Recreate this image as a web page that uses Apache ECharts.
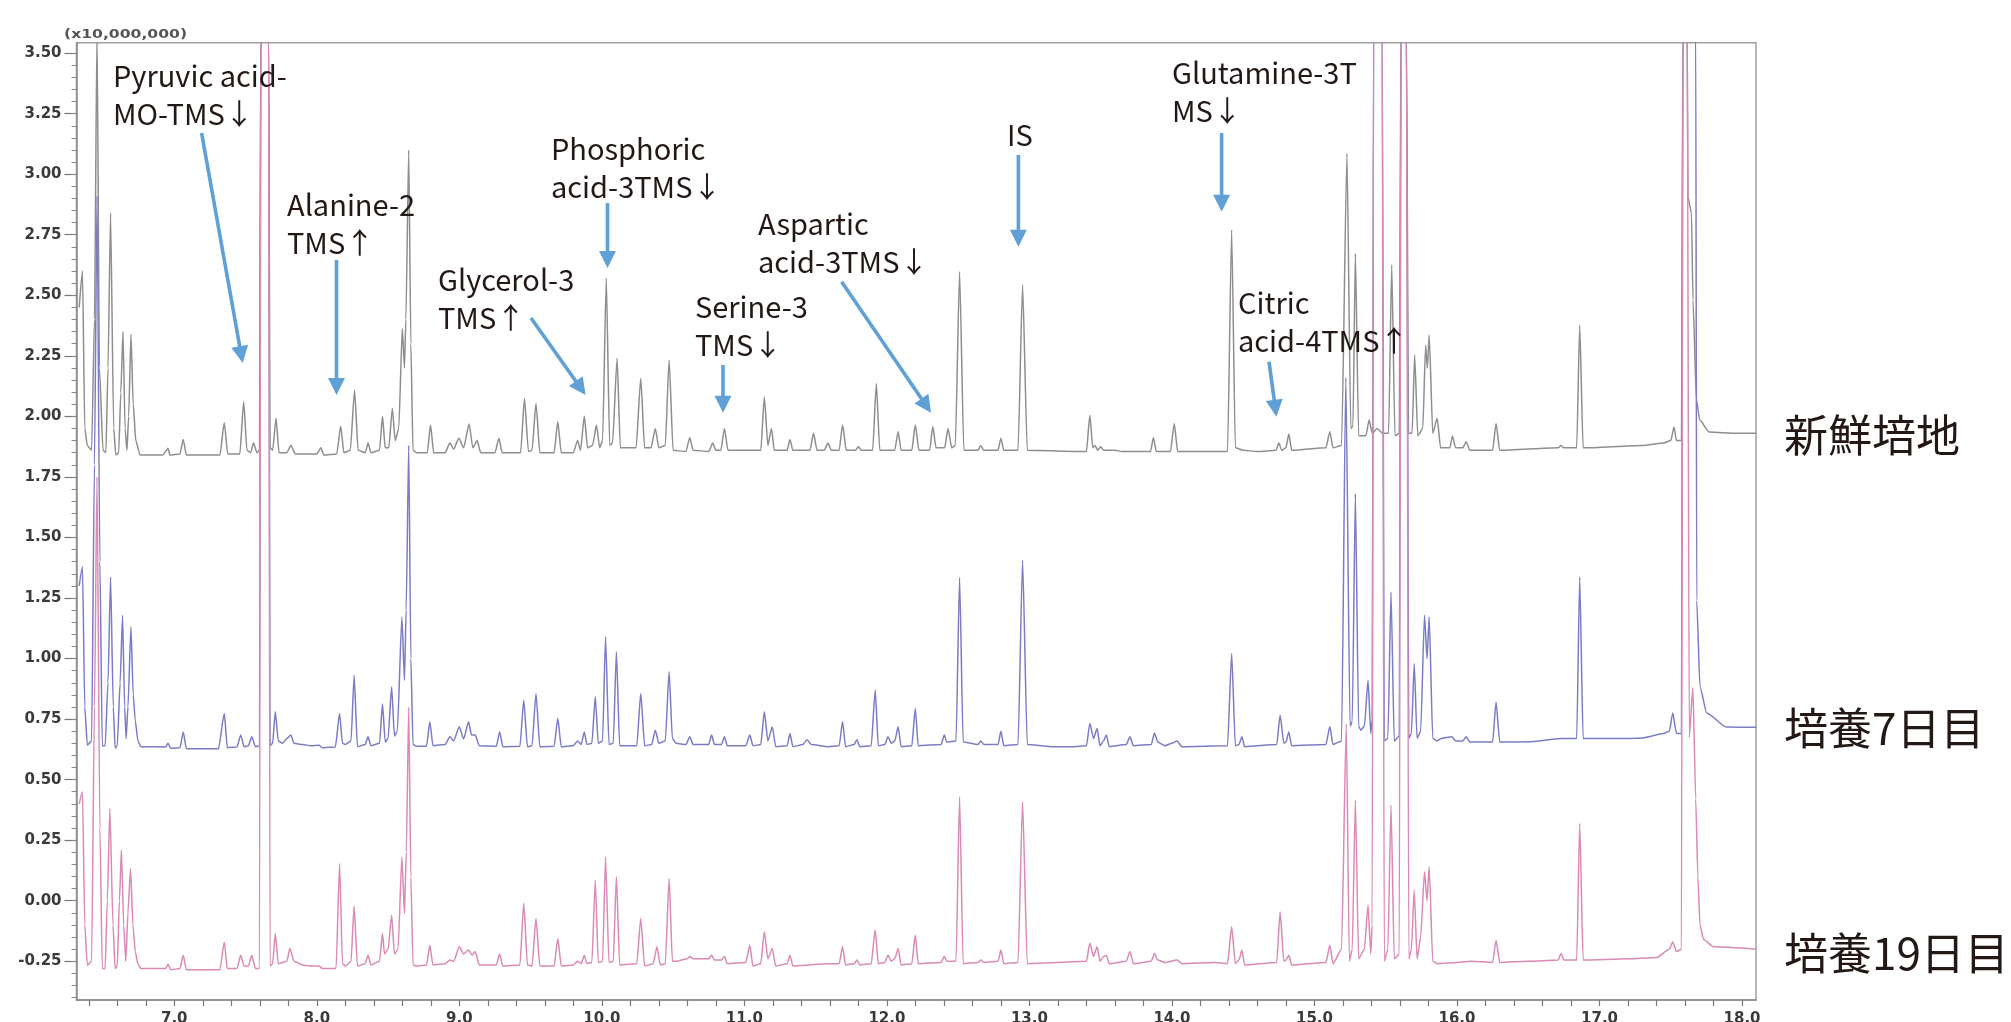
<!DOCTYPE html>
<html>
<head>
<meta charset="utf-8">
<script src="https://cdn.jsdelivr.net/npm/echarts@6/dist/echarts.min.js"></script>
<style>
html,body{margin:0;padding:0;background:#fff;}
#chart{width:2011px;height:1022px;}
</style>
</head>
<body>
<div id="chart"></div>
<script>
// ---------------- DATA ----------------
// Retention time (min) vs intensity (x10,000,000); traces are offset as printed.
const seriesNames = ['新鮮培地', '培養7日目', '培養19日目'];

const freshMedium = [
[6.333,2.45],[6.356,2.60],[6.372,1.95],[6.39,1.88],[6.42,1.86],[6.44,2.4],[6.458,3.6],[6.475,2.2],[6.50,1.86],[6.52,1.85],
[6.535,2.2],[6.553,2.84],[6.575,1.95],[6.59,1.84],[6.61,1.85],[6.625,2.1],[6.64,2.35],[6.655,1.95],[6.668,1.86],[6.68,2.0],
[6.696,2.34],[6.712,2.05],[6.73,1.90],[6.76,1.84],[6.92,1.84],[6.945,1.86],[6.956,1.868],[6.97,1.84],[7.04,1.845],[7.063,1.905],
[7.085,1.84],[7.32,1.84],[7.351,1.974],[7.375,1.845],[7.46,1.845],[7.487,2.06],[7.51,1.86],[7.535,1.85],[7.556,1.89],[7.58,1.85],
[7.598,1.86],[7.607,3.6],[7.662,3.6],[7.672,1.87],[7.69,1.86],[7.714,1.992],[7.735,1.85],[7.79,1.85],[7.818,1.88],[7.85,1.845],
[8.0,1.845],[8.028,1.87],[8.05,1.84],[8.14,1.845],[8.168,1.96],[8.19,1.85],[8.235,1.86],[8.265,2.108],[8.29,1.86],[8.34,1.85],
[8.36,1.89],[8.38,1.85],[8.44,1.86],[8.461,2.0],[8.48,1.87],[8.505,1.87],[8.53,2.033],[8.55,1.9],[8.575,1.95],[8.60,2.363],
[8.615,2.2],[8.625,2.4],[8.645,3.10],[8.66,2.3],[8.675,1.86],[8.70,1.85],[8.775,1.85],[8.798,1.964],[8.82,1.85],[8.90,1.85],
[8.934,1.89],[8.96,1.865],[8.997,1.91],[9.03,1.87],[9.069,1.968],[9.095,1.87],[9.125,1.90],[9.15,1.85],[9.25,1.85],[9.278,1.91],
[9.30,1.85],[9.43,1.85],[9.457,2.074],[9.485,1.855],[9.51,1.86],[9.538,2.054],[9.565,1.85],[9.665,1.85],[9.691,1.978],[9.715,1.85],
[9.80,1.85],[9.83,1.90],[9.85,1.86],[9.877,2.0],[9.90,1.87],[9.935,1.88],[9.962,1.964],[9.985,1.87],[10.005,1.90],[10.031,2.57],
[10.055,1.88],[10.075,1.89],[10.107,2.24],[10.13,1.87],[10.24,1.87],[10.273,2.157],[10.30,1.87],[10.345,1.87],[10.375,1.95],[10.40,1.87],
[10.445,1.88],[10.472,2.233],[10.50,1.86],[10.59,1.855],[10.617,1.913],[10.64,1.86],[10.75,1.855],[10.778,1.89],[10.80,1.86],[10.835,1.86],
[10.86,1.95],[10.885,1.86],[11.115,1.86],[11.14,2.08],[11.165,1.88],[11.19,1.95],[11.21,1.86],[11.30,1.86],[11.32,1.905],[11.34,1.86],
[11.46,1.86],[11.485,1.93],[11.51,1.86],[11.56,1.86],[11.587,1.89],[11.61,1.86],[11.665,1.86],[11.689,1.964],[11.715,1.86],[11.78,1.86],
[11.80,1.875],[11.82,1.86],[11.90,1.86],[11.926,2.136],[11.95,1.86],[12.055,1.86],[12.079,1.937],[12.10,1.86],[12.175,1.86],[12.199,1.964],
[12.225,1.86],[12.30,1.86],[12.322,1.957],[12.345,1.87],[12.405,1.87],[12.429,1.95],[12.455,1.87],[12.48,1.88],[12.51,2.597],[12.54,1.86],
[12.64,1.86],[12.658,1.88],[12.68,1.86],[12.78,1.86],[12.80,1.91],[12.82,1.86],[12.92,1.86],[12.952,2.542],[12.985,1.86],[13.40,1.855],
[13.424,2.005],[13.445,1.87],[13.46,1.88],[13.48,1.86],[13.50,1.875],[13.52,1.86],[13.60,1.86],[13.65,1.855],[13.85,1.855],[13.87,1.913],
[13.89,1.855],[13.99,1.855],[14.016,1.971],[14.04,1.855],[14.39,1.855],[14.419,2.77],[14.445,1.87],[14.50,1.86],[14.60,1.855],[14.73,1.86],
[14.75,1.89],[14.77,1.86],[14.80,1.87],[14.82,1.927],[14.84,1.86],[15.08,1.87],[15.108,1.937],[15.13,1.87],[15.19,1.88],[15.228,3.086],
[15.255,1.95],[15.27,1.96],[15.287,2.673],[15.31,1.92],[15.36,1.92],[15.384,1.985],[15.405,1.93],[15.44,1.95],[15.48,1.93],[15.52,1.93],
[15.542,2.625],[15.565,1.92],[15.595,1.93],[15.607,3.6],[15.645,3.6],[15.66,1.93],[15.685,1.93],[15.703,2.253],[15.725,1.92],[15.76,1.95],
[15.78,2.294],[15.792,2.2],[15.805,2.336],[15.83,1.93],[15.861,1.992],[15.885,1.87],[15.95,1.87],[15.968,1.919],[15.99,1.87],[16.04,1.87],
[16.065,1.895],[16.09,1.86],[16.25,1.86],[16.274,1.971],[16.30,1.86],[16.71,1.87],[16.73,1.88],[16.75,1.87],[16.84,1.87],[16.861,2.377],
[16.885,1.87],[17.30,1.88],[17.45,1.89],[17.50,1.90],[17.523,1.956],[17.54,1.90],[17.575,1.90],[17.585,3.6],[17.615,3.6],[17.621,2.905],
[17.645,2.84],[17.656,2.48],[17.68,2.07],[17.703,1.985],[17.77,1.935],[17.96,1.93],[18.1,1.93]
];

const day7 = [
[6.333,1.30],[6.356,1.379],[6.372,0.80],[6.39,0.642],[6.42,0.66],[6.44,1.8],[6.458,2.91],[6.478,1.4],[6.495,0.64],[6.515,0.64],
[6.535,0.90],[6.553,1.337],[6.572,0.80],[6.585,0.63],[6.60,0.64],[6.62,0.90],[6.637,1.179],[6.652,0.80],[6.662,0.67],[6.675,0.80],
[6.696,1.131],[6.712,0.85],[6.726,0.746],[6.745,0.66],[6.765,0.636],[6.94,0.635],[6.956,0.65],[6.975,0.63],[7.04,0.632],[7.063,0.697],
[7.085,0.628],[7.31,0.628],[7.351,0.773],[7.372,0.632],[7.44,0.635],[7.466,0.684],[7.49,0.636],[7.52,0.64],[7.543,0.677],[7.57,0.636],
[7.598,0.64],[7.607,3.6],[7.662,3.6],[7.672,0.64],[7.69,0.65],[7.709,0.78],[7.73,0.66],[7.76,0.65],[7.79,0.67],[7.818,0.684],
[7.84,0.65],[7.90,0.645],[7.96,0.64],[8.015,0.642],[8.04,0.632],[8.13,0.635],[8.16,0.773],[8.18,0.65],[8.20,0.645],[8.24,0.66],
[8.262,0.931],[8.285,0.636],[8.34,0.645],[8.359,0.677],[8.38,0.64],[8.44,0.65],[8.461,0.812],[8.48,0.655],[8.50,0.67],[8.525,0.883],
[8.545,0.68],[8.565,0.70],[8.597,1.172],[8.615,0.91],[8.627,1.2],[8.645,1.88],[8.66,1.0],[8.675,0.645],[8.70,0.638],[8.77,0.638],
[8.793,0.739],[8.815,0.64],[8.90,0.645],[8.934,0.677],[8.96,0.66],[9.0,0.718],[9.03,0.668],[9.065,0.739],[9.085,0.685],[9.112,0.684],
[9.14,0.64],[9.26,0.638],[9.283,0.697],[9.305,0.636],[9.425,0.638],[9.452,0.828],[9.478,0.636],[9.51,0.64],[9.538,0.856],[9.565,0.636],
[9.665,0.638],[9.691,0.753],[9.715,0.636],[9.80,0.64],[9.83,0.66],[9.855,0.645],[9.877,0.697],[9.895,0.645],[9.93,0.65],[9.954,0.842],
[9.975,0.65],[10.005,0.66],[10.026,1.09],[10.05,0.645],[10.08,0.65],[10.102,1.028],[10.125,0.64],[10.245,0.64],[10.273,0.856],[10.30,0.64],
[10.35,0.645],[10.375,0.704],[10.40,0.65],[10.445,0.66],[10.472,0.945],[10.495,0.67],[10.52,0.65],[10.59,0.645],[10.617,0.677],[10.64,0.645],
[10.75,0.645],[10.77,0.684],[10.79,0.645],[10.84,0.645],[10.86,0.677],[10.88,0.64],[11.01,0.64],[11.038,0.684],[11.06,0.64],[11.115,0.645],
[11.14,0.78],[11.165,0.66],[11.196,0.718],[11.22,0.636],[11.30,0.64],[11.32,0.69],[11.34,0.636],[11.41,0.645],[11.44,0.665],[11.47,0.645],
[11.58,0.636],[11.665,0.64],[11.689,0.739],[11.71,0.636],[11.77,0.645],[11.79,0.665],[11.81,0.636],[11.89,0.64],[11.918,0.87],[11.94,0.64],
[11.985,0.645],[12.008,0.677],[12.03,0.65],[12.055,0.66],[12.079,0.718],[12.10,0.636],[12.175,0.64],[12.199,0.794],[12.22,0.64],[12.38,0.645],
[12.403,0.684],[12.42,0.655],[12.485,0.66],[12.51,1.335],[12.535,0.655],[12.64,0.645],[12.658,0.66],[12.68,0.645],[12.78,0.645],[12.80,0.70],
[12.82,0.64],[12.92,0.645],[12.952,1.406],[12.985,0.645],[13.15,0.636],[13.30,0.636],[13.40,0.64],[13.424,0.732],[13.45,0.67],[13.475,0.711],
[13.495,0.64],[13.52,0.66],[13.54,0.684],[13.56,0.636],[13.68,0.645],[13.705,0.677],[13.73,0.64],[13.855,0.645],[13.878,0.693],[13.90,0.655],
[13.95,0.64],[14.00,0.65],[14.036,0.66],[14.07,0.636],[14.39,0.64],[14.419,1.021],[14.445,0.64],[14.47,0.645],[14.491,0.677],[14.51,0.636],
[14.735,0.645],[14.759,0.766],[14.785,0.65],[14.80,0.655],[14.82,0.697],[14.84,0.64],[15.08,0.645],[15.108,0.718],[15.13,0.645],[15.19,0.66],
[15.22,2.16],[15.25,0.72],[15.265,0.74],[15.287,1.68],[15.31,0.72],[15.325,0.704],[15.35,0.72],[15.376,0.91],[15.395,0.69],[15.405,0.75],
[15.415,3.6],[15.475,3.6],[15.49,0.66],[15.515,0.67],[15.537,1.275],[15.56,0.66],[15.595,0.68],[15.607,3.6],[15.645,3.6],[15.662,0.67],
[15.68,0.69],[15.70,0.98],[15.72,0.67],[15.745,0.70],[15.772,1.179],[15.79,1.0],[15.805,1.172],[15.83,0.67],[15.86,0.66],[15.89,0.67],
[15.963,0.677],[15.99,0.66],[16.04,0.66],[16.065,0.677],[16.09,0.655],[16.25,0.655],[16.274,0.821],[16.30,0.655],[16.50,0.656],[16.73,0.67],
[16.84,0.67],[16.861,1.337],[16.885,0.67],[17.20,0.67],[17.30,0.672],[17.45,0.69],[17.49,0.70],[17.514,0.775],[17.54,0.69],[17.575,0.69],
[17.585,3.6],[17.675,3.6],[17.682,1.24],[17.705,0.883],[17.752,0.775],[17.89,0.717],[18.1,0.716]
];

const day19 = [
[6.333,0.40],[6.356,0.45],[6.372,-0.10],[6.39,-0.266],[6.42,-0.25],[6.44,0.8],[6.458,1.75],[6.478,0.3],[6.495,-0.28],[6.515,-0.28],
[6.53,0.0],[6.548,0.381],[6.57,-0.10],[6.585,-0.28],[6.60,-0.27],[6.615,0.0],[6.629,0.209],[6.645,-0.10],[6.66,-0.25],[6.675,-0.05],
[6.693,0.133],[6.71,-0.10],[6.726,-0.21],[6.745,-0.26],[6.765,-0.28],[6.94,-0.28],[6.956,-0.262],[6.975,-0.285],[7.04,-0.28],[7.063,-0.225],
[7.085,-0.285],[7.32,-0.285],[7.351,-0.17],[7.372,-0.28],[7.44,-0.28],[7.466,-0.225],[7.49,-0.27],[7.52,-0.27],[7.543,-0.225],[7.57,-0.28],
[7.598,-0.28],[7.607,3.6],[7.662,3.6],[7.672,-0.27],[7.69,-0.26],[7.709,-0.135],[7.73,-0.26],[7.79,-0.25],[7.811,-0.197],[7.84,-0.25],
[7.90,-0.265],[7.96,-0.27],[8.015,-0.27],[8.04,-0.28],[8.135,-0.28],[8.16,0.154],[8.18,-0.26],[8.20,-0.27],[8.24,-0.25],[8.262,-0.022],
[8.285,-0.27],[8.34,-0.26],[8.359,-0.225],[8.38,-0.265],[8.44,-0.25],[8.461,-0.135],[8.475,-0.22],[8.50,-0.20],[8.525,-0.06],[8.545,-0.22],
[8.57,-0.20],[8.597,0.181],[8.615,-0.053],[8.628,0.2],[8.645,0.80],[8.66,0.1],[8.675,-0.265],[8.70,-0.27],[8.77,-0.265],[8.793,-0.184],
[8.815,-0.265],[8.90,-0.26],[8.934,-0.245],[8.96,-0.25],[9.0,-0.19],[9.03,-0.22],[9.065,-0.204],[9.09,-0.225],[9.112,-0.21],[9.14,-0.265],
[9.26,-0.265],[9.283,-0.22],[9.305,-0.27],[9.425,-0.265],[9.452,-0.011],[9.478,-0.265],[9.51,-0.27],[9.538,-0.073],[9.565,-0.27],[9.665,-0.27],
[9.691,-0.156],[9.715,-0.27],[9.80,-0.265],[9.83,-0.25],[9.855,-0.26],[9.877,-0.225],[9.895,-0.26],[9.93,-0.255],[9.954,0.085],[9.975,-0.255],
[10.005,-0.25],[10.026,0.181],[10.05,-0.255],[10.08,-0.25],[10.102,0.099],[10.125,-0.265],[10.245,-0.26],[10.273,-0.073],[10.30,-0.27],[10.36,-0.26],
[10.387,-0.19],[10.41,-0.265],[10.445,-0.26],[10.472,0.092],[10.495,-0.25],[10.52,-0.25],[10.60,-0.24],[10.617,-0.23],[10.64,-0.24],[10.75,-0.24],
[10.77,-0.225],[10.79,-0.245],[10.84,-0.245],[10.86,-0.23],[10.88,-0.26],[11.01,-0.255],[11.038,-0.184],[11.06,-0.27],[11.115,-0.26],[11.14,-0.128],
[11.165,-0.24],[11.196,-0.197],[11.22,-0.27],[11.30,-0.26],[11.32,-0.225],[11.34,-0.27],[11.45,-0.265],[11.58,-0.26],[11.665,-0.26],[11.689,-0.19],
[11.71,-0.265],[11.77,-0.26],[11.79,-0.245],[11.81,-0.265],[11.89,-0.26],[11.918,-0.121],[11.94,-0.26],[11.985,-0.255],[12.008,-0.225],[12.03,-0.25],
[12.055,-0.24],[12.079,-0.197],[12.10,-0.265],[12.175,-0.26],[12.199,-0.142],[12.22,-0.26],[12.38,-0.255],[12.403,-0.23],[12.42,-0.25],[12.485,-0.25],
[12.51,0.429],[12.535,-0.26],[12.64,-0.255],[12.658,-0.245],[12.68,-0.255],[12.78,-0.25],[12.80,-0.204],[12.82,-0.26],[12.92,-0.255],[12.952,0.408],
[12.985,-0.26],[13.20,-0.255],[13.40,-0.25],[13.424,-0.176],[13.45,-0.23],[13.475,-0.19],[13.495,-0.25],[13.52,-0.23],[13.54,-0.225],[13.56,-0.26],
[13.68,-0.25],[13.705,-0.21],[13.73,-0.26],[13.855,-0.25],[13.878,-0.218],[13.90,-0.245],[13.95,-0.255],[14.036,-0.245],[14.07,-0.26],[14.30,-0.255],
[14.39,-0.26],[14.419,-0.108],[14.445,-0.26],[14.47,-0.245],[14.491,-0.204],[14.51,-0.265],[14.735,-0.255],[14.759,-0.046],[14.785,-0.25],[14.80,-0.245],
[14.82,-0.225],[14.84,-0.265],[15.08,-0.255],[15.108,-0.184],[15.13,-0.26],[15.19,-0.20],[15.223,0.73],[15.245,-0.25],[15.265,-0.20],[15.287,0.415],
[15.31,-0.24],[15.35,-0.20],[15.376,-0.018],[15.395,-0.22],[15.405,-0.10],[15.415,3.6],[15.475,3.6],[15.49,-0.25],[15.515,-0.20],[15.537,0.395],
[15.56,-0.24],[15.595,-0.22],[15.607,3.6],[15.645,3.6],[15.662,-0.24],[15.68,-0.20],[15.70,0.044],[15.72,-0.24],[15.745,-0.15],[15.772,0.12],
[15.79,0.0],[15.805,0.14],[15.83,-0.25],[15.86,-0.26],[16.0,-0.255],[16.1,-0.25],[16.25,-0.255],[16.274,-0.163],[16.30,-0.255],[16.50,-0.25],
[16.71,-0.245],[16.73,-0.218],[16.75,-0.245],[16.84,-0.245],[16.861,0.319],[16.885,-0.245],[17.20,-0.24],[17.40,-0.235],[17.49,-0.20],[17.514,-0.17],
[17.54,-0.21],[17.575,-0.20],[17.585,3.6],[17.615,3.6],[17.63,0.675],[17.655,0.88],[17.675,0.42],[17.69,0.10],[17.705,-0.10],[17.73,-0.16],
[17.80,-0.19],[18.1,-0.20]
];

// Axis tick labels
const xTickValues = [7,8,9,10,11,12,13,14,15,16,17,18];
const xTickLabels = ['7.0','8.0','9.0','10.0','11.0','12.0','13.0','14.0','15.0','16.0','17.0','18.0'];
const yTickValues = [-0.25,0,0.25,0.5,0.75,1,1.25,1.5,1.75,2,2.25,2.5,2.75,3,3.25,3.5];
const yTickLabels = ['-0.25','0.00','0.25','0.50','0.75','1.00','1.25','1.50','1.75','2.00','2.25','2.50','2.75','3.00','3.25','3.50'];
const unitLabel = '(x10,000,000)';

// Peak annotations (compound names as printed)
const annotationTexts = [
  'Pyruvic acid-\nMO-TMS↓', 'Alanine-2\nTMS↑', 'Glycerol-3\nTMS↑', 'Phosphoric\nacid-3TMS↓',
  'Serine-3\nTMS↓', 'Aspartic\nacid-3TMS↓', 'IS', 'Glutamine-3T\nMS↓', 'Citric\nacid-4TMS↑'
];

// ---------------- LAYOUT ----------------
const X_MIN = 6.314, X_MAX = 18.098, Y_MIN = -0.41, Y_MAX = 3.543;
const GRID = {left: 76.5, top: 42.7, right: 255, bottom: 22};

// minor tick positions
const xMinorTicks = [];
for (let i = 32; i <= 90; i++) xMinorTicks.push(+(i * 0.2).toFixed(2));
const yMinorTicks = [];
for (let i = -8; i <= 70; i++) yMinorTicks.push(+(i * 0.05).toFixed(2));

function lab(values, labels) {
  return function (v) {
    const i = values.findIndex(t => Math.abs(t - v) < 1e-6);
    return i >= 0 ? labels[i] : '';
  };
}

const annoFont = '29px "Noto Sans CJK JP"';
const annoColor = '#231815';
const arrowColor = '#5fa0d6';
// text anchor (left, top of first line) and arrow (start -> tip) in pixels
const annoPos = [
  [113, 57], [287, 186], [438, 261], [551, 130], [695, 288], [758, 205], [1007, 116], [1172, 54], [1238, 284]
];
const arrowPos = [
  [201.6,133, 242.7,363], [336.5,260, 336.5,395], [531,318, 585.6,395], [607.5,203, 607.5,268],
  [723,365, 723,412.7], [841.6,281.7, 931,412.7], [1018.4,155, 1018.4,246.7], [1221.6,133, 1221.6,211.7],
  [1269,361.7, 1276.5,416.7]
];

const graphics = [];
annotationTexts.forEach((t, i) => {
  graphics.push({
    type: 'text', x: annoPos[i][0], y: annoPos[i][1], z: 100,
    style: {text: t, font: annoFont, fill: annoColor, lineHeight: 38, textAlign: 'left', textVerticalAlign: 'top'}
  });
  const [x1, y1, x2, y2] = arrowPos[i];
  const dx = x2 - x1, dy = y2 - y1, L = Math.sqrt(dx * dx + dy * dy);
  const ux = dx / L, uy = dy / L, hl = 17, hw = 8.5;
  const bx = x2 - ux * hl, by = y2 - uy * hl;
  graphics.push({
    type: 'line', z: 100,
    shape: {x1: x1, y1: y1, x2: bx + ux * 2, y2: by + uy * 2},
    style: {stroke: arrowColor, lineWidth: 3.6}
  });
  graphics.push({
    type: 'polygon', z: 100,
    shape: {points: [[x2, y2], [bx - uy * hw, by + ux * hw], [bx + uy * hw, by - ux * hw]]},
    style: {fill: arrowColor}
  });
});
// trace names at right
const nameY = [435, 728, 953];
seriesNames.forEach((n, i) => {
  graphics.push({
    type: 'text', x: 1784, y: nameY[i], z: 100,
    style: {text: n, font: '44px "Noto Sans CJK JP"', fill: annoColor, textAlign: 'left', textVerticalAlign: 'middle'}
  });
});
graphics.push({
  type: 'text', x: 64, y: 35, scaleX: 1.3, z: 100,
  style: {text: unitLabel, font: 'bold 12px "DejaVu Sans"', fill: '#555', textAlign: 'left', textVerticalAlign: 'middle'}
});

const chart = echarts.init(document.getElementById('chart'), null, {renderer: 'canvas'});
const axisLabelStyle = {fontFamily: 'DejaVu Sans', fontSize: 15, fontWeight: 'bold', color: '#3a3a3a'};

chart.setOption({
  animation: false,
  backgroundColor: '#ffffff',
  grid: {left: GRID.left, top: GRID.top, right: GRID.right, bottom: GRID.bottom, show: true,
         outerBoundsMode: 'none',
         borderColor: '#a0a0a0', borderWidth: 1.5, backgroundColor: 'transparent', containLabel: false},
  xAxis: [
    {type: 'value', min: X_MIN, max: X_MAX, position: 'bottom',
     axisLine: {show: true, onZero: false, lineStyle: {color: '#8a8a8a', width: 1.5}},
     axisTick: {show: true, length: 6, customValues: xMinorTicks, lineStyle: {color: '#777', width: 1.2}},
     axisLabel: Object.assign({customValues: xTickValues, formatter: lab(xTickValues, xTickLabels), margin: 12}, axisLabelStyle),
     splitLine: {show: false}}
  ],
  yAxis: [
    {type: 'value', min: Y_MIN, max: Y_MAX, position: 'left',
     axisLine: {show: true, onZero: false, lineStyle: {color: '#8a8a8a', width: 1.5}},
     axisTick: {show: true, length: 12, customValues: yTickValues, lineStyle: {color: '#777', width: 1.2}},
     axisLabel: Object.assign({customValues: yTickValues, formatter: lab(yTickValues, yTickLabels), margin: 15}, axisLabelStyle),
     splitLine: {show: false}},
    {type: 'value', min: Y_MIN, max: Y_MAX, position: 'left', offset: 0,
     axisLine: {show: false},
     axisTick: {show: true, length: 5, customValues: yMinorTicks, lineStyle: {color: '#888', width: 1}},
     axisLabel: {show: false}, splitLine: {show: false}}
  ],
  series: [
    {name: seriesNames[0], type: 'line', data: freshMedium, showSymbol: false, symbol: 'none', clip: true,
     smooth: 0.2, smoothMonotone: 'x',
     lineStyle: {color: '#8e8e8e', width: 1.5}, z: 2},
    {name: seriesNames[1], type: 'line', data: day7, showSymbol: false, symbol: 'none', clip: true,
     smooth: 0.2, smoothMonotone: 'x',
     lineStyle: {color: '#7c7cc6', width: 1.5}, z: 3},
    {name: seriesNames[2], type: 'line', data: day19, showSymbol: false, symbol: 'none', clip: true,
     smooth: 0.2, smoothMonotone: 'x',
     lineStyle: {color: '#da8ab4', width: 1.5}, z: 4}
  ],
  graphic: graphics
});
</script>
</body>
</html>
